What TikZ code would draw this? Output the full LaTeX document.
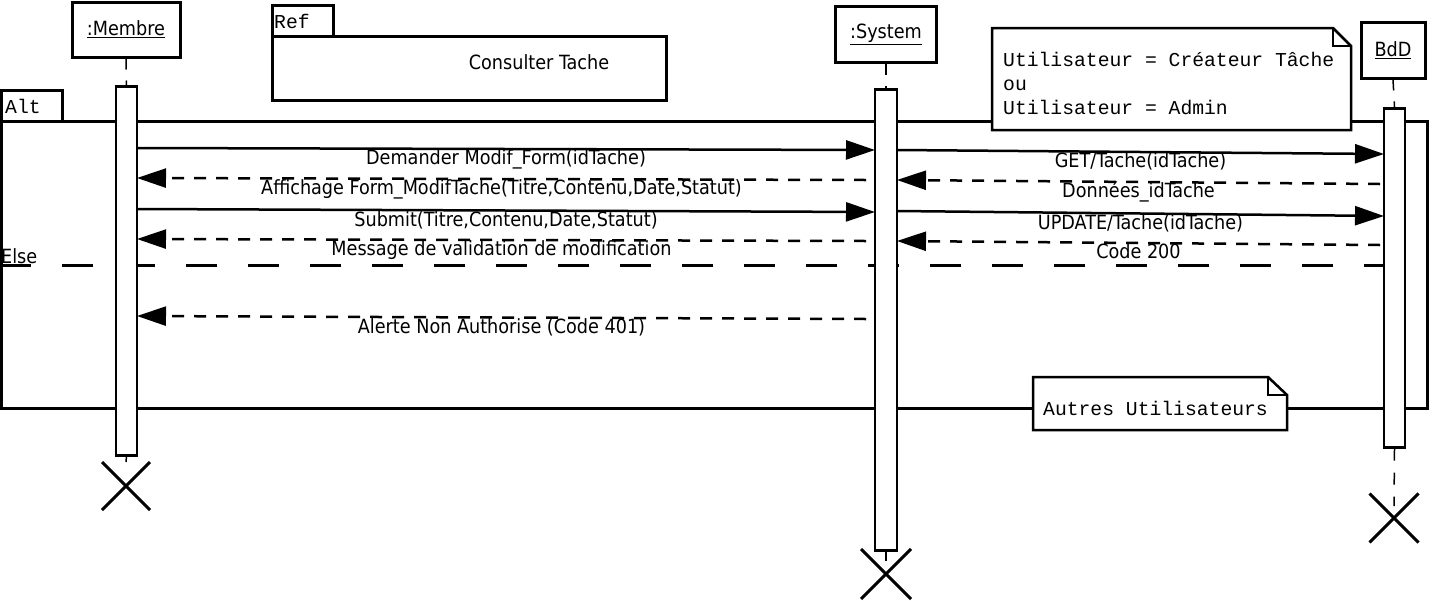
\documentclass[tikz,border=0pt]{standalone}
\usepackage{fontspec}
\setmainfont{DejaVu Sans Condensed}
\newfontfamily\notefont{Liberation Mono}
\usetikzlibrary{arrows.meta}

\tikzset{
  sans/.style={font=\fontsize{19.6}{23}\selectfont},
  mono/.style={font=\notefont\fontsize{19.7}{24}\selectfont},
  frameline/.style={line width=3pt},
  head/.style={draw, line width=3pt, fill=white, sans, inner sep=0pt},
  actbar/.style={draw, line width=2.5pt, fill=white, inner sep=0pt, anchor=north},
  lifedash/.style={line width=1.5pt, dash pattern=on 11pt off 11pt},
  call/.style={line width=2.5pt, -{Triangle[length=29pt,width=19pt]}},
  reply/.style={line width=2.5pt, dash pattern=on 12pt off 10pt, -{Triangle[length=29pt,width=19pt]}},
  msglabel/.style={sans, anchor=base, inner sep=0pt, yshift=-15.5pt},
  kill/.style={line width=3pt},
  notebox/.style={line width=2.5pt, fill=white},
  tag/.style={mono, anchor=base west, inner sep=0pt},
}

\begin{document}
\begin{tikzpicture}[x=1pt, y=-1pt]
\useasboundingbox (0,0) rectangle (1432,600);

% alt combined fragment and its else separator
\draw[frameline] (1.5,121) rectangle (1427,408);
\draw[frameline] (1.5,90) rectangle (62,121);
\node[tag] (alttag) at (5,113) {Alt};
\draw[line width=3pt, dash pattern=on 31pt off 31pt] (0,265) -- (1427,265);
\node[sans, anchor=base west, inner sep=0pt] (elsetag) at (1,263) {Else};

% lifeline heads
\node[head, minimum width=108pt, minimum height=55pt] (membre) at (126,29.5) {\underline{:Membre}};
\node[head, minimum width=101pt, minimum height=56pt] (system) at (886,34) {\underline{:System}};
\node[head, minimum width=64pt, minimum height=56pt] (bdd) at (1393,50) {\underline{BdD}};

% activation bars
\node[actbar, minimum width=21pt, minimum height=369pt] (mact) at (126.5,85) {};
\node[actbar, minimum width=22pt, minimum height=461pt] (sact) at (886,88) {};
\node[actbar, minimum width=21pt, minimum height=339pt] (bact) at (1394.5,107) {};

% lifeline stems
\draw[lifedash] (membre.south) -- (mact.north);
\draw[lifedash] (system.south) -- (sact.north);
\draw[lifedash] (bdd.south) -- (bact.north);

% destruction marks
\coordinate (mx) at (126,486);
\coordinate (sx) at (886,574);
\coordinate (bx) at (1394,518);
\draw[lifedash] (mact.south) -- (126,462);
\draw[line width=1.5pt] (sact.south) -- (886,561);
\draw[lifedash, dash pattern=on 12pt off 12pt] (bact.south) -- (1394,506);
\draw[kill] (mx) ++(-24,-24) -- ++(48,48) (mx) ++(-24,24) -- ++(48,-48);
\draw[kill] (sx) ++(-25,-25) -- ++(50,50) (sx) ++(-25,25) -- ++(50,-50);
\draw[kill] (bx) ++(-24.5,-24.5) -- ++(49,49) (bx) ++(-24.5,24.5) -- ++(49,-49);

% message end points
\coordinate (a1) at (137,148);  \coordinate (b1) at (875,150);
\coordinate (a2) at (866,180);  \coordinate (b2) at (137,178);
\coordinate (a3) at (137,209);  \coordinate (b3) at (875,212);
\coordinate (a4) at (866,241);  \coordinate (b4) at (137,239);
\coordinate (a5) at (897,150);  \coordinate (b5) at (1384,154);
\coordinate (a6) at (1380,184); \coordinate (b6) at (897,180);
\coordinate (a7) at (897,211);  \coordinate (b7) at (1384,216);
\coordinate (a8) at (1380,245); \coordinate (b8) at (897,241);
\coordinate (a9) at (866,319);  \coordinate (b9) at (137,316);

% messages
\draw[call]  (a1) -- node[msglabel] (l1) {Demander Modif\_Form(idTache)} (b1);
\draw[reply] (a2) -- node[msglabel] (l2) {Affichage Form\_ModifTache(Titre,Contenu,Date,Statut)} (b2);
\draw[call]  (a3) -- node[msglabel] (l3) {Submit(Titre,Contenu,Date,Statut)} (b3);
\draw[reply] (a4) -- node[msglabel] (l4) {Message de validation de modification} (b4);
\draw[call]  (a5) -- node[msglabel] (l5) {GET/Tache(idTache)} (b5);
\draw[reply] (a6) -- node[msglabel] (l6) {Données\_idTache} (b6);
\draw[call]  (a7) -- node[msglabel] (l7) {UPDATE/Tache(idTache)} (b7);
\draw[reply] (a8) -- node[msglabel] (l8) {Code 200} (b8);
\draw[reply] (a9) -- node[msglabel] (l9) {Alerte Non Authorise (Code 401)} (b9);

% ref interaction use
\draw[frameline, fill=white] (272,36) rectangle (666,100);
\draw[frameline, fill=white] (272,5) rectangle (333,36);
\node[tag] (reftag) at (274,28) {Ref};
\node[sans, anchor=base, inner sep=0pt] (reftext) at (539,69) {Consulter Tache};

% guard note
\draw[notebox] (992,28) -- (1333,28) -- (1351,46) -- (1351,130) -- (992,130) -- cycle;
\draw[line width=1.5pt] (1333,28) -- (1333,46) -- (1351,46);
\node[tag] (guard1) at (1003,66) {Utilisateur = Créateur Tâche};
\node[tag] (guard2) at (1003,90) {ou};
\node[tag] (guard3) at (1003,114) {Utilisateur = Admin};

% else note
\draw[notebox] (1033,377) -- (1268,377) -- (1287,395) -- (1287,430) -- (1033,430) -- cycle;
\draw[line width=1.5pt] (1268,377) -- (1268,395) -- (1287,395);
\node[tag] (other) at (1043,415) {Autres Utilisateurs};
\end{tikzpicture}
\end{document}
